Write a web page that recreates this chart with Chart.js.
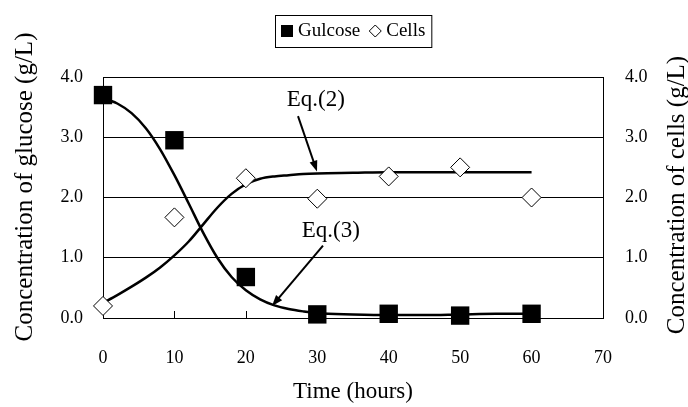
<!DOCTYPE html>
<html>
<head>
<meta charset="utf-8">
<script src="https://cdn.jsdelivr.net/npm/chart.js@4.4.1/dist/chart.umd.min.js"></script>
<style>
html, body { margin: 0; padding: 0; background: #fff; }
</style>
</head>
<body>
<canvas id="grafica" width="688" height="407"></canvas>
<script>
// datos medidos (horas, g/L)
const tiempo = [0, 10, 20, 30, 40, 50, 60];
const glucosa = [3.7, 2.95, 0.68, 0.06, 0.07, 0.04, 0.07];
const celulas = [0.2, 1.67, 2.32, 1.98, 2.35, 2.5, 2.0];

// curvas de los modelos Eq.(2) y Eq.(3)
const tiempoModelo = [0, 2, 4, 6, 8, 10, 12, 14, 16, 18, 20, 22, 24, 26, 28, 30, 35, 40, 45, 50, 55, 60];
const glucosaEq3 = [3.65, 3.56, 3.4, 3.15, 2.8, 2.37, 1.9, 1.42, 1.0, 0.68, 0.46, 0.31, 0.21, 0.15, 0.11, 0.08, 0.06, 0.05, 0.05, 0.06, 0.07, 0.07];
const celulasEq2 = [0.25, 0.38, 0.52, 0.67, 0.84, 1.04, 1.27, 1.55, 1.83, 2.06, 2.22, 2.31, 2.35, 2.37, 2.39, 2.40, 2.41, 2.42, 2.42, 2.42, 2.42, 2.42];

const ticksX = [0, 10, 20, 30, 40, 50, 60, 70];
const ticksY = [0, 1, 2, 3, 4];

const tituloIzq = 'Concentration of glucose (g/L)';
const tituloDer = 'Concentration of cells (g/L)';

const fuente = "'Liberation Serif', 'Times New Roman', serif";

function puntos(xs, ys) {
    return xs.map((x, i) => ({ x: x, y: ys[i] }));
}

function flecha(ctx, x1, y1, x2, y2) {
    const a = Math.atan2(y2 - y1, x2 - x1);
    ctx.beginPath();
    ctx.moveTo(x1, y1);
    ctx.lineTo(x2 - 8 * Math.cos(a), y2 - 8 * Math.sin(a));
    ctx.stroke();
    ctx.beginPath();
    ctx.moveTo(x2, y2);
    ctx.lineTo(x2 - 11 * Math.cos(a) + 4 * Math.sin(a), y2 - 11 * Math.sin(a) - 4 * Math.cos(a));
    ctx.lineTo(x2 - 11 * Math.cos(a) - 4 * Math.sin(a), y2 - 11 * Math.sin(a) + 4 * Math.cos(a));
    ctx.closePath();
    ctx.fill();
}

function textoVertical(ctx, texto, x, y) {
    ctx.save();
    ctx.translate(x, y);
    ctx.rotate(-Math.PI / 2);
    ctx.fillText(texto, 0, 0);
    ctx.restore();
}

// marco, marcas interiores del eje X, leyenda con borde, títulos verticales y anotaciones
const extras = {
    id: 'extras',
    beforeDatasetsDraw(chart) {
        const { ctx, chartArea: ca, scales } = chart;
        ctx.save();
        ctx.strokeStyle = '#000';
        ctx.lineWidth = 1;
        ctx.strokeRect(Math.round(ca.left) + 0.5, Math.round(ca.top) + 0.5, Math.round(ca.width), Math.round(ca.height));
        ticksX.forEach(v => {
            const px = Math.round(scales.x.getPixelForValue(v)) + 0.5;
            ctx.beginPath();
            ctx.moveTo(px, ca.bottom);
            ctx.lineTo(px, ca.bottom - 7);
            ctx.stroke();
        });
        ctx.restore();
    },
    afterDraw(chart) {
        const { ctx, chartArea: ca, scales } = chart;
        const sx = scales.x, sy = scales.y;
        ctx.save();

        // leyenda
        ctx.font = '19px ' + fuente;
        ctx.textBaseline = 'middle';
        const t1 = chart.data.datasets[0].label, t2 = chart.data.datasets[1].label;
        const m = 12, gap = 5, sep = 9, pad = 6;
        const ancho = pad + m + gap + ctx.measureText(t1).width + sep + m + gap + ctx.measureText(t2).width + pad;
        const lx = Math.round((ca.left + ca.right) / 2 - ancho / 2), ly = 15, alto = 32;
        const cy = ly + alto / 2;
        ctx.strokeStyle = '#000';
        ctx.lineWidth = 1;
        ctx.strokeRect(lx + 0.5, ly + 0.5, ancho, alto);
        let x = lx + pad;
        ctx.fillStyle = '#000';
        ctx.fillRect(x, cy - m / 2, m, m);
        x += m + gap;
        ctx.fillText(t1, x, cy);
        x += ctx.measureText(t1).width + sep;
        ctx.beginPath();
        ctx.moveTo(x + m / 2, cy - m / 2);
        ctx.lineTo(x + m, cy);
        ctx.lineTo(x + m / 2, cy + m / 2);
        ctx.lineTo(x, cy);
        ctx.closePath();
        ctx.fillStyle = '#fff';
        ctx.fill();
        ctx.stroke();
        x += m + gap;
        ctx.fillStyle = '#000';
        ctx.fillText(t2, x, cy);

        // títulos de los ejes Y (ambos leen de abajo hacia arriba)
        ctx.font = '25px ' + fuente;
        ctx.textAlign = 'center';
        textoVertical(ctx, tituloIzq, 25, 187);
        textoVertical(ctx, tituloDer, 677, 195);

        // anotaciones
        ctx.font = '23px ' + fuente;
        ctx.fillText('Eq.(2)', sx.getPixelForValue(29.8), sy.getPixelForValue(3.62));
        ctx.fillText('Eq.(3)', sx.getPixelForValue(31.9), sy.getPixelForValue(1.45));
        ctx.lineWidth = 2;
        flecha(ctx, sx.getPixelForValue(27.3), sy.getPixelForValue(3.35), sx.getPixelForValue(29.96), sy.getPixelForValue(2.43));
        flecha(ctx, sx.getPixelForValue(30.8), sy.getPixelForValue(1.2), sx.getPixelForValue(23.66), sy.getPixelForValue(0.2));
        ctx.restore();
    }
};

new Chart(document.getElementById('grafica'), {
    type: 'line',
    data: {
        datasets: [
            {
                label: 'Gulcose',
                data: puntos(tiempo, glucosa),
                showLine: false,
                clip: false,
                pointStyle: 'rect',
                pointRadius: 13,
                pointBackgroundColor: '#000',
                pointBorderColor: '#000',
                pointBorderWidth: 0
            },
            {
                label: 'Cells',
                data: puntos(tiempo, celulas),
                showLine: false,
                clip: false,
                pointStyle: 'rectRot',
                pointRadius: 9.5,
                pointBackgroundColor: '#fff',
                pointBorderColor: '#000',
                pointBorderWidth: 1
            },
            {
                label: 'Eq.(3)',
                data: puntos(tiempoModelo, glucosaEq3),
                borderColor: '#000',
                borderWidth: 2.5,
                pointRadius: 0,
                cubicInterpolationMode: 'monotone',
                fill: false
            },
            {
                label: 'Eq.(2)',
                data: puntos(tiempoModelo, celulasEq2),
                borderColor: '#000',
                borderWidth: 2.5,
                pointRadius: 0,
                cubicInterpolationMode: 'monotone',
                fill: false
            }
        ]
    },
    options: {
        responsive: false,
        animation: false,
        layout: { padding: { top: 77, left: 0, right: 0, bottom: 0 } },
        plugins: {
            legend: { display: false },
            tooltip: { enabled: false }
        },
        scales: {
            x: {
                type: 'linear',
                min: 0,
                max: 70,
                afterBuildTicks: s => { s.ticks = ticksX.map(v => ({ value: v })); },
                afterFit: s => { s.height = 89; },
                grid: { display: false },
                border: { display: false },
                ticks: { color: '#000', padding: 21, font: { family: fuente, size: 18 } },
                title: {
                    display: true,
                    text: 'Time (hours)',
                    color: '#000',
                    font: { family: fuente, size: 23 },
                    padding: { top: 0, bottom: 1 }
                }
            },
            y: {
                position: 'left',
                min: 0,
                max: 4,
                afterBuildTicks: s => { s.ticks = ticksY.map(v => ({ value: v })); },
                afterFit: s => { s.width = 103; },
                grid: { color: '#000', lineWidth: 1, drawTicks: false },
                border: { display: false },
                ticks: { color: '#000', padding: 20, font: { family: fuente, size: 18 }, callback: v => v.toFixed(1) }
            },
            y2: {
                position: 'right',
                min: 0,
                max: 4,
                afterBuildTicks: s => { s.ticks = ticksY.map(v => ({ value: v })); },
                afterFit: s => { s.width = 85; },
                grid: { display: false },
                border: { display: false },
                ticks: { color: '#000', padding: 14, font: { family: fuente, size: 18 }, callback: v => v.toFixed(1) }
            }
        }
    },
    plugins: [extras]
});
</script>
</body>
</html>
